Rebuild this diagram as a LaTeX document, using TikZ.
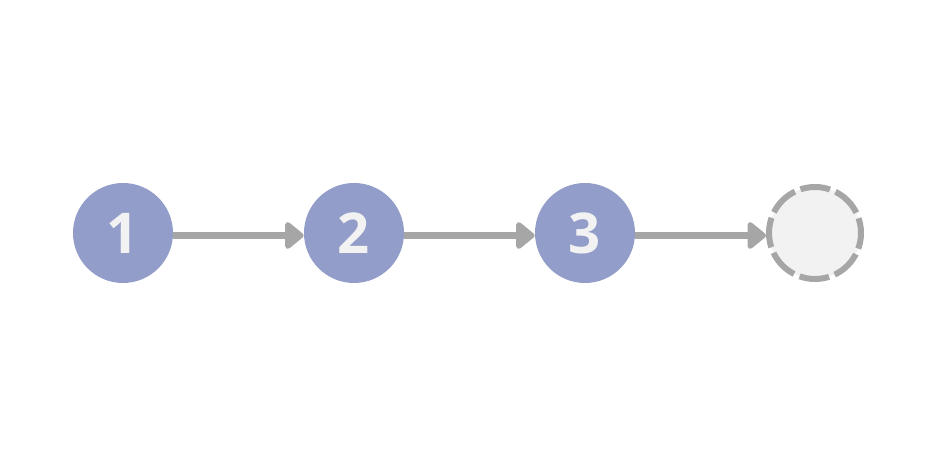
\documentclass[tikz,border=0pt]{standalone}
\usepackage{fontspec}
\setmainfont{Open Sans}
\usetikzlibrary{arrows.meta}
\definecolor{stepblue}{HTML}{939DC9}
\definecolor{arrowgray}{HTML}{A6A6A6}
\definecolor{lightgray}{HTML}{F2F2F2}
\begin{document}
\begin{tikzpicture}
          [every node/.style={circle, inner sep = 0pt, minimum width = 2cm, font=\bfseries\fontsize{32}{32}\selectfont, text=lightgray}]
        \useasboundingbox (0,0) rectangle (18.76,9.38);
        \node[fill=stepblue] (n1) at (2.46,4.72) {1};
        \node[fill=stepblue] (n2) at (7.08,4.72) {2};
        \node[fill=stepblue] (n3) at (11.70,4.72) {3};
        \node[fill=lightgray, draw=arrowgray, line width=0.12cm, dash pattern=on 0.6cm off 0.12cm, dash phase=0.3cm, minimum width = 1.84cm] (n4) at (16.30,4.72) {};

        \foreach \from/\to in {n1/n2, n2/n3, n3/n4}
          \draw[arrowgray, line width=0.13cm, -{Triangle[length=0.4cm, width=0.62cm, round]}] ([yshift=-0.05cm]\from.east) -- ([yshift=-0.05cm]\to.west);
      \end{tikzpicture}
\end{document}
